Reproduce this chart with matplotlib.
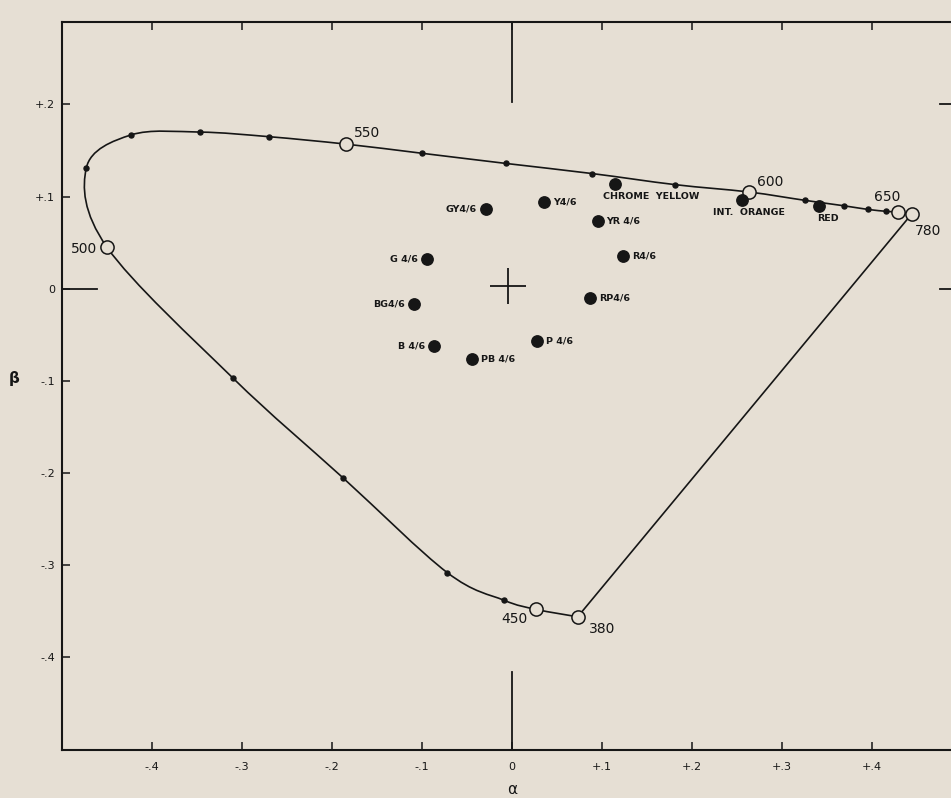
"""Alpha-beta chromaticity diagram with spectrum locus and Munsell samples."""

import numpy as np
import matplotlib
matplotlib.use("Agg")
import matplotlib.pyplot as plt
from matplotlib.path import Path
from matplotlib.patches import PathPatch

# Spectrum locus, wavelength in nm
wavelengths = [380, 450, 460, 470, 480, 490, 500, 510, 520, 530, 540, 550,
               560, 570, 580, 590, 600, 610, 620, 630, 640, 650, 780]
locus_alpha = [0.073, 0.027, -0.009, -0.072, -0.188, -0.310, -0.450, -0.473,
               -0.423, -0.347, -0.270, -0.185, -0.100, -0.007, 0.089, 0.181,
               0.263, 0.325, 0.369, 0.396, 0.416, 0.429, 0.444]
locus_beta = [-0.356, -0.348, -0.338, -0.308, -0.205, -0.097, 0.045, 0.131,
              0.167, 0.170, 0.165, 0.157, 0.147, 0.136, 0.125, 0.113, 0.105,
              0.096, 0.090, 0.086, 0.084, 0.083, 0.081]
marked_wavelengths = [380, 450, 500, 550, 600, 650, 780]

# Munsell 4/6 samples
sample_names = ["GY4/6", "Y4/6", "YR 4/6", "R4/6", "RP4/6",
                "P 4/6", "PB 4/6", "B 4/6", "BG4/6", "G 4/6"]
sample_alpha = [-0.029, 0.036, 0.095, 0.123, 0.087,
                0.028, -0.044, -0.087, -0.109, -0.095]
sample_beta = [0.086, 0.094, 0.073, 0.036, -0.010,
               -0.057, -0.076, -0.062, -0.017, 0.032]
sample_side = ["left", "right", "right", "right", "right",
               "right", "right", "left", "left", "left"]

# Pigments
pigment_names = ["CHROME  YELLOW", "INT.  ORANGE", "RED"]
pigment_alpha = [0.114, 0.256, 0.341]
pigment_beta = [0.114, 0.096, 0.090]

x_ticks = [-0.4, -0.3, -0.2, -0.1, 0, 0.1, 0.2, 0.3, 0.4]
x_tick_labels = ["-.4", "-.3", "-.2", "-.1", "0", "+.1", "+.2", "+.3", "+.4"]
y_ticks = [0.2, 0.1, 0, -0.1, -0.2, -0.3, -0.4]
y_tick_labels = ["+.2", "+.1", "0", "-.1", "-.2", "-.3", "-.4"]

PAPER = "#e6dfd4"
INK = "#161616"


def smooth_path(xs, ys) -> Path:
    """Catmull-Rom curve through the points, as a cubic Bezier path."""
    pts = np.column_stack([xs, ys])
    n = len(pts)
    verts = [pts[0]]
    codes = [Path.MOVETO]
    for i in range(n - 1):
        p0 = pts[max(i - 1, 0)]
        p1 = pts[i]
        p2 = pts[i + 1]
        p3 = pts[min(i + 2, n - 1)]
        verts += [p1 + (p2 - p0) / 6, p2 - (p3 - p1) / 6, p2]
        codes += [Path.CURVE4] * 3
    return Path(verts, codes)


fig = plt.figure(figsize=(9.51, 7.98), dpi=100, facecolor=PAPER)
ax = fig.add_axes([62 / 951, 48.5 / 798, 900 / 951, 728 / 798])
ax.set_facecolor(PAPER)
ax.set_xlim(-0.5, 0.5)
ax.set_ylim(-0.5, 0.29)

# Spectrum locus and purple line
ax.add_patch(PathPatch(smooth_path(locus_alpha, locus_beta), fill=False,
                       edgecolor=INK, lw=1.2, zorder=2))
ax.plot([locus_alpha[-1], locus_alpha[0]], [locus_beta[-1], locus_beta[0]],
        color=INK, lw=1.2, zorder=2)

for wl, a, b in zip(wavelengths, locus_alpha, locus_beta):
    if wl in marked_wavelengths:
        ax.plot(a, b, "o", ms=9.5, mfc=PAPER, mec=INK, mew=1.1, zorder=4)
    else:
        ax.plot(a, b, "o", ms=3.6, color=INK, zorder=3)

wl_offsets = {380: (8, -9, "left"), 450: (-6, -7, "right"),
              500: (-7, -1, "right"), 550: (6, 8, "left"),
              600: (6, 7, "left"), 650: (-8, 11, "center"),
              780: (2, -12, "left")}
for wl, a, b in zip(wavelengths, locus_alpha, locus_beta):
    if wl in wl_offsets:
        dx, dy, ha = wl_offsets[wl]
        ax.annotate(str(wl), (a, b), xytext=(dx, dy),
                    textcoords="offset points", ha=ha, va="center",
                    fontsize=10, color=INK, zorder=5)

# Munsell samples
ax.plot(sample_alpha, sample_beta, "o", ms=8.2, color=INK, zorder=4)
for name, a, b, side in zip(sample_names, sample_alpha, sample_beta,
                            sample_side):
    dx = -6.5 if side == "left" else 6.5
    ax.annotate(name, (a, b), xytext=(dx, 0), textcoords="offset points",
                ha="right" if side == "left" else "left", va="center",
                fontsize=6.8, fontweight="bold", color=INK)

# Pigments
ax.plot(pigment_alpha, pigment_beta, "o", ms=8.2, color=INK, zorder=4)
pigment_offsets = [(-8, -9.5), (-21, -8.6), (-1.5, -9.5)]
for name, a, b, (dx, dy) in zip(pigment_names, pigment_alpha, pigment_beta,
                                pigment_offsets):
    ax.annotate(name, (a, b), xytext=(dx, dy), textcoords="offset points",
                ha="left", va="center", fontsize=6.8, fontweight="bold",
                color=INK)

# White point cross
ax.plot(-0.005, 0.003, "+", ms=26, mew=1.3, color=INK, zorder=3)

# Frame and ticks
for side in ["left", "bottom", "top"]:
    ax.spines[side].set_linewidth(1.5)
    ax.spines[side].set_color(INK)
ax.spines["right"].set_visible(False)

ax.set_xticks(x_ticks)
ax.set_xticklabels(x_tick_labels)
ax.set_yticks(y_ticks)
ax.set_yticklabels(y_tick_labels)
ax.tick_params(axis="both", direction="in", length=6, width=1.1,
               color=INK, labelcolor=INK, labelsize=8, pad=7)
ax.tick_params(axis="x", top=True, labeltop=False, pad=9)
ax.tick_params(axis="y", right=False, pad=5)

# Long zero marks on the frame
ax.axvline(0, ymin=0, ymax=78 / 728, color=INK, lw=1.3)
ax.axvline(0, ymin=1 - 80 / 728, ymax=1, color=INK, lw=1.3)
ax.axhline(0, xmin=0, xmax=35 / 900, color=INK, lw=1.3)
ax.axhline(0, xmin=1 - 22 / 900, xmax=1, color=INK, lw=1.3)
ax.axhline(0.2, xmin=1 - 22 / 900, xmax=1, color=INK, lw=1.3)

ax.set_xlabel("α", fontsize=11, color=INK)
ax.xaxis.set_label_coords(0.5, -0.045)
ax.set_ylabel("β", fontsize=11, fontweight="bold", color=INK, rotation=0)
ax.yaxis.set_label_coords(-0.053, 0.5)

fig.savefig("out.png", dpi=100, facecolor=PAPER)
